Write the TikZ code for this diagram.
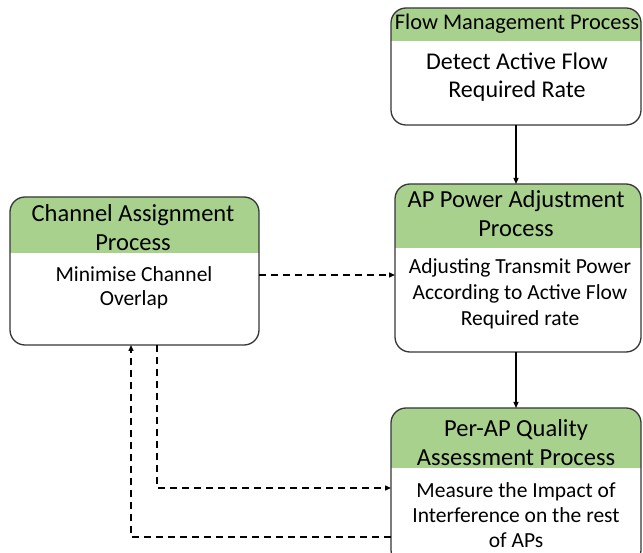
\documentclass[tikz,border=0pt]{standalone}
\usepackage{fontspec}
\setmainfont{Carlito}
\usetikzlibrary{arrows.meta}
\definecolor{hdrgreen}{RGB}{169,209,142}
\definecolor{edgegray}{RGB}{55,55,55}
\begin{document}
\begin{tikzpicture}[x=1pt,y=-1pt,
  boxarea/.style={rectangle, inner sep=0pt, outer sep=0pt},
  frame/.style={draw=edgegray, line width=1.3pt, rounded corners=15pt},
  hdrfill/.style={fill=hdrgreen, rounded corners=15pt},
  hdrtext/.style={font=\fontsize{24.5}{29}\selectfont, align=center, inner sep=0pt},
  bodytext/.style={font=\fontsize{21.5}{25.5}\selectfont, align=center, inner sep=0pt},
  solidarrow/.style={draw=black, line width=1.2pt, -{Triangle[length=6pt,width=5pt]}},
  dasharrow/.style={draw=black, line width=1.4pt, dash pattern=on 7pt off 5pt, -{Triangle[length=6pt,width=5pt]}}
]
\useasboundingbox (0,0) rectangle (643,553);
\fill[white] (0,0) rectangle (643,553);

% box areas
\node[boxarea, minimum width=250pt, minimum height=117pt] (fm) at (516,66.5) {};
\node[boxarea, minimum width=246pt, minimum height=168pt] (ap) at (518,268) {};
\node[boxarea, minimum width=249pt, minimum height=148pt] (ca) at (134.5,271) {};
\node[boxarea, minimum width=250pt, minimum height=157pt] (pq) at (516,486.5) {};

% helper coordinates
\coordinate (hfm) at (0,41);
\coordinate (hap) at (0,248);
\coordinate (hca) at (0,253);
\coordinate (hpq) at (0,467);
\coordinate (y275) at (0,275);
\coordinate (y488) at (0,488);
\coordinate (y537) at (0,537);
\coordinate (x157) at (157,0);
\coordinate (x131) at (131,0);

% header fills
\begin{scope}
  \clip (fm.north west) rectangle (fm.east |- hfm);
  \fill[hdrfill] (fm.north west) rectangle (fm.south east);
\end{scope}
\begin{scope}
  \clip (ap.north west) rectangle (ap.east |- hap);
  \fill[hdrfill] (ap.north west) rectangle (ap.south east);
\end{scope}
\begin{scope}
  \clip (ca.north west) rectangle (ca.east |- hca);
  \fill[hdrfill] (ca.north west) rectangle (ca.south east);
\end{scope}
\begin{scope}
  \clip (pq.north west) rectangle (pq.east |- hpq);
  \fill[hdrfill] (pq.north west) rectangle (pq.south east);
\end{scope}

% frames
\draw[frame] (fm.north west) rectangle (fm.south east);
\draw[frame] (ap.north west) rectangle (ap.south east);
\draw[frame] (ca.north west) rectangle (ca.south east);
\draw[frame] (pq.north west) rectangle (pq.south east);

% texts
\node[hdrtext, font=\fontsize{22.4}{27}\selectfont] (fmh) at (517,24) {Flow Management Process};
\node[bodytext, font=\fontsize{24}{28}\selectfont] (fmb) at (517,77) {Detect Active Flow\\Required Rate};
\node[hdrtext] (cah) at (133,228) {Channel Assignment\\Process};
\node[bodytext, font=\fontsize{21.5}{23.5}\selectfont] (cab) at (134,288) {Minimise Channel\\Overlap};
\node[hdrtext] (aph) at (516,214) {AP Power Adjustment\\Process};
\node[bodytext, font=\fontsize{21.5}{26}\selectfont] (apb) at (520,294) {Adjusting Transmit Power\\According to Active Flow\\Required rate};
\node[hdrtext] (pqh) at (516,443) {Per-AP Quality\\Assessment Process};
\node[bodytext, font=\fontsize{21.5}{25}\selectfont] (pqb) at (516,515) {Measure the Impact of\\Interference on the rest\\of APs};

% connectors
\draw[solidarrow] (fm.south) -- (fm.south |- ap.north);
\draw[solidarrow] (ap.south -| fm.south) -- (fm.south |- pq.north);
\draw[dasharrow] (ca.east |- y275) -- (ap.west |- y275);
\draw[dasharrow] (ca.south -| x157) |- (pq.west |- y488);
\draw[dasharrow] (pq.west |- y537) -| (ca.south -| x131);
\end{tikzpicture}
\end{document}
